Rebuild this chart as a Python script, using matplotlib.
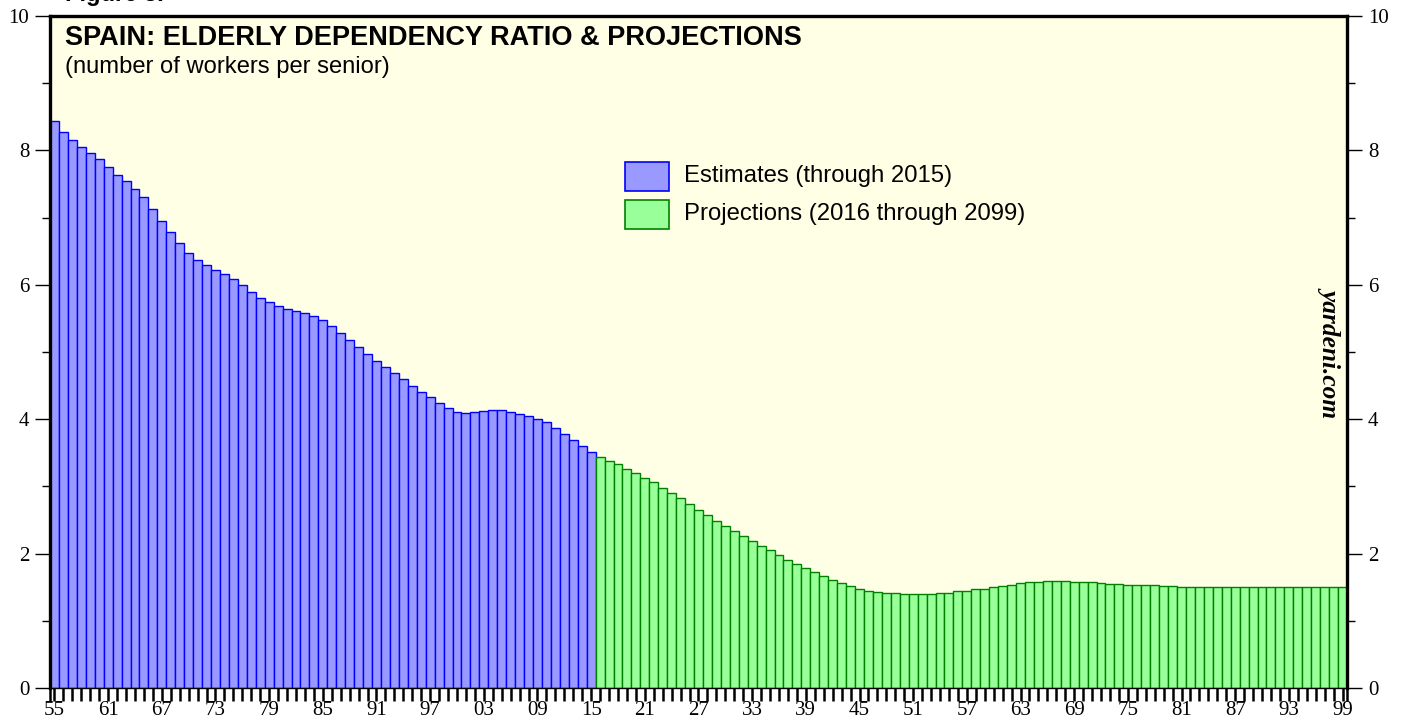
import matplotlib
matplotlib.use("Agg")
import matplotlib.pyplot as plt
from matplotlib.patches import Rectangle
import numpy as np

# ---- data ----
est_years = list(range(1955, 2016))
est_values = [8.44, 8.28, 8.16, 8.05, 7.96, 7.87, 7.75, 7.64, 7.55, 7.43,
              7.30, 7.13, 6.95, 6.78, 6.62, 6.48, 6.37, 6.29, 6.22, 6.16,
              6.09, 5.99, 5.90, 5.81, 5.75, 5.69, 5.64, 5.61, 5.58, 5.54,
              5.48, 5.39, 5.29, 5.18, 5.08, 4.97, 4.87, 4.78, 4.69, 4.60,
              4.50, 4.41, 4.33, 4.24, 4.16, 4.10, 4.09, 4.11, 4.12, 4.13,
              4.13, 4.11, 4.08, 4.05, 4.01, 3.96, 3.87, 3.78, 3.69, 3.60,
              3.51]
proj_years = list(range(2016, 2100))
proj_values = [3.44, 3.38, 3.33, 3.26, 3.20, 3.13, 3.06, 2.98, 2.90, 2.82,
               2.74, 2.65, 2.57, 2.49, 2.41, 2.34, 2.26, 2.19, 2.12, 2.05,
               1.98, 1.91, 1.85, 1.79, 1.73, 1.67, 1.61, 1.56, 1.52, 1.48,
               1.45, 1.43, 1.42, 1.41, 1.40, 1.40, 1.40, 1.40, 1.41, 1.42,
               1.44, 1.45, 1.47, 1.48, 1.50, 1.52, 1.54, 1.56, 1.57, 1.58,
               1.59, 1.59, 1.59, 1.58, 1.58, 1.57, 1.56, 1.55, 1.55, 1.54,
               1.53, 1.53, 1.53, 1.52, 1.52, 1.51, 1.51, 1.51, 1.51, 1.51,
               1.51, 1.51, 1.51, 1.51, 1.51, 1.51, 1.51, 1.51, 1.51, 1.51,
               1.51, 1.51, 1.51, 1.51]
label_years = list(range(1955, 2100, 6))
y_major = [0, 2, 4, 6, 8, 10]
y_minor = [1, 3, 5, 7, 9]

title = "SPAIN: ELDERLY DEPENDENCY RATIO & PROJECTIONS"
subtitle = "(number of workers per senior)"
est_label = "Estimates (through 2015)"
proj_label = "Projections (2016 through 2099)"

# ---- figure ----
W, H = 1405, 721
fig = plt.figure(figsize=(W / 100, H / 100), dpi=100)
fig.patch.set_facecolor("white")

def px(x, y):
    return x / W, 1 - y / H

L, R, T, B = 50, 1347, 16, 688
ax = fig.add_axes([L / W, 1 - B / H, (R - L) / W, (B - T) / H])
ax.set_facecolor("#ffffe6")

est_fill, est_edge = "#9999ff", "#0000ff"
proj_fill, proj_edge = "#99ff99", "#008000"

ax.bar(est_years, est_values, width=1.0, color=est_fill, edgecolor=est_edge,
       linewidth=1.0, zorder=2)
ax.bar(proj_years, proj_values, width=1.0, color=proj_fill, edgecolor=proj_edge,
       linewidth=1.0, zorder=2)

x0, x1 = est_years[0] - 0.5, proj_years[-1] + 0.5
ax.set_xlim(x0, x1)
ax.set_ylim(0, 10)

serif = "Liberation Serif"
sans = "Liberation Sans"

# y axis: both sides
ax.set_yticks(y_major)
ax.set_yticks(y_minor, minor=True)
ax.set_yticklabels([str(v) for v in y_major], fontfamily=serif, fontsize=15)
ax.tick_params(axis="y", which="major", direction="out", length=11, width=1.0,
               pad=4, left=True, right=True, labelleft=True, labelright=True)
ax.tick_params(axis="y", which="minor", direction="out", length=5.5, width=1.0,
               left=True, right=True)

# x axis ticks at every year, labels every 6 years
all_years = est_years + proj_years
ax.set_xticks(all_years)
ax.set_xticklabels([f"{y % 100:02d}" if y in label_years else "" for y in all_years],
                   fontfamily=serif, fontsize=15)
ax.set_xticks([x0, x1], minor=True)
ax.tick_params(axis="x", which="both", direction="out", length=9, width=1.8,
               pad=0.5, bottom=True, top=False)

for side in ["left", "right", "top"]:
    ax.spines[side].set_linewidth(2.4)
ax.spines["bottom"].set_linewidth(1.0)
for s in ax.spines.values():
    s.set_zorder(5)

# titles
fig.text(*px(65, 45), title, fontfamily=sans, fontweight="bold", fontsize=19.5,
         va="baseline", ha="left")
fig.text(*px(65, 73), subtitle, fontfamily=sans, fontsize=17.1,
         va="baseline", ha="left")
fig.text(*px(65, 1), "Figure 3.", fontfamily=sans, fontweight="bold", fontsize=17,
         va="baseline", ha="left")

# legend
for (y_top, fc, ec, lab) in [(162, est_fill, est_edge, est_label),
                              (200, proj_fill, proj_edge, proj_label)]:
    xa, ya = px(625, y_top + 29)
    fig.add_artist(Rectangle((xa, ya), 44 / W, 29 / H, transform=fig.transFigure,
                             facecolor=fc, edgecolor=ec, linewidth=1.2, zorder=6))
    fig.text(*px(684, y_top + 14), lab, fontfamily=sans, fontsize=17.2,
             va="center", ha="left", zorder=6)

# watermark
fig.text(*px(1331, 352), "yardeni.com", fontfamily=serif, fontweight="bold",
         fontstyle="italic", fontsize=18.3, rotation=-90, va="center", ha="center")

fig.savefig("out.png", dpi=100)
